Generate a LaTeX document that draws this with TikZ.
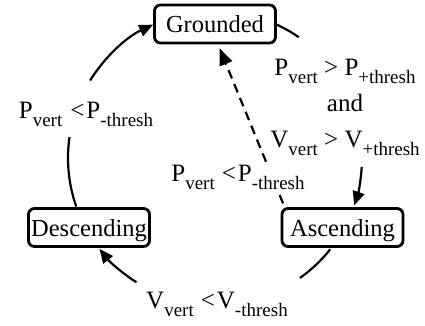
\documentclass[tikz,border=0pt]{standalone}
\usepackage{fontspec}
\setmainfont{Liberation Serif}
\usetikzlibrary{arrows.meta,calc}
\newcommand\sbt[1]{\raisebox{-8pt}{\fontsize{19}{19}\selectfont #1}}
\begin{document}
\begin{tikzpicture}[x=1pt,y=1pt,
  state/.style={draw,line width=2.8pt,rounded corners=6pt,minimum width=121pt,minimum height=38pt,
    inner sep=0pt,text height=19pt,text depth=2pt,font=\fontsize{24.5}{28}\selectfont},
  lbl/.style={font=\fontsize{25}{36}\selectfont,inner sep=0pt,align=center},
  conn/.style={line width=2.2pt},
  tip/.style={-{Triangle[length=14pt,width=12pt]}}]
\useasboundingbox (0,0) rectangle (425,325);
\coordinate (C) at (215,167);
\node[state] (G) at (215,301) {Grounded};
\node[state] (D) at (89,97.5) {Descending};
\node[state] (A) at (342.5,97.5) {Ascending};
% labels
\node[lbl,anchor=base] (L1) at (345,178) {P\sbt{vert} > P\sbt{+thresh}\\and\\V\sbt{vert} > V\sbt{+thresh}};
\node[lbl,anchor=base] (L2) at (217,17) {V\sbt{vert}\hspace{7pt}<\hspace{2pt}V\sbt{-thresh}};
\node[lbl,anchor=base] (L3) at (86,207) {P\sbt{vert}\hspace{8pt}<\hspace{2pt}P\sbt{-thresh}};
% Grounded -> Ascending
\draw[conn] ($(C)+(65.5:147pt)$) arc[start angle=65.5,end angle=55.3,radius=147pt];
\draw[conn,tip] ($(C)+(-3.5:147pt)$) arc[start angle=-3.5,end angle=-18.8,radius=147pt];
% Ascending -> Descending
\draw[conn] ($(C)+(-38.4:147pt)$) arc[start angle=-38.4,end angle=-54.7,radius=147pt];
\draw[conn,tip] ($(C)+(-122.3:147pt)$) arc[start angle=-122.3,end angle=-141.8,radius=147pt];
% Descending -> Grounded
\draw[conn] ($(C)+(199.3:147pt)$) arc[start angle=199.3,end angle=171.8,radius=147pt];
\draw[conn,tip] ($(C)+(148.2:147pt)$) arc[start angle=148.2,end angle=114.9,radius=147pt];
% dashed Ascending -> Grounded
\draw[conn,dash pattern=on 9pt off 6pt,-{Triangle[length=17pt,width=13pt]},shorten <=4pt,shorten >=4pt]
  ([xshift=4pt]A.north west) -- ([xshift=3pt]G.south);
\node[lbl,anchor=base,fill=white,inner sep=1pt] (L4) at (238,144) {P\sbt{vert}\hspace{7pt}<\hspace{2pt}P\sbt{-thresh}};
\end{tikzpicture}
\end{document}
